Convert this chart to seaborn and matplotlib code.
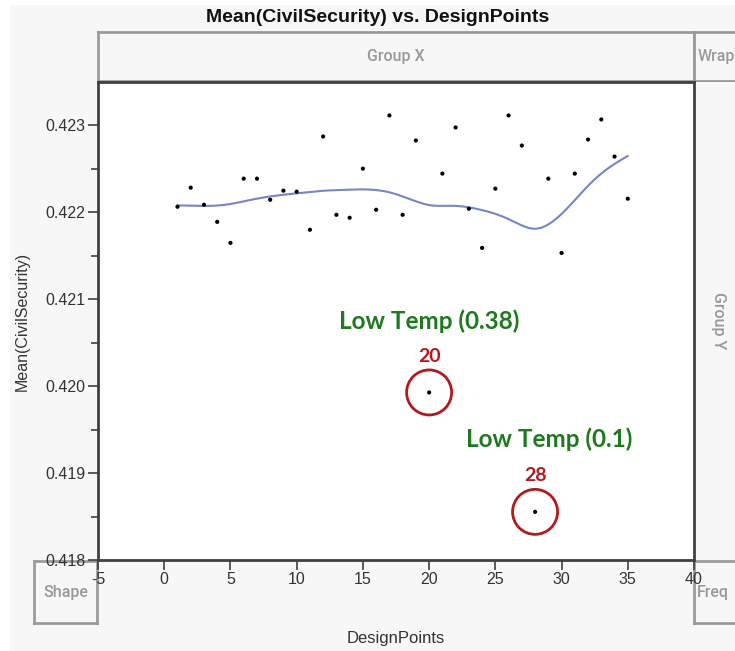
"""
Mean(CivilSecurity) vs. DesignPoints - JMP style graph builder view
with smoother and two flagged low-temperature design points.
"""

import numpy as np
import pandas as pd
import matplotlib
matplotlib.use("Agg")
import matplotlib.pyplot as plt
from matplotlib.patches import Rectangle
import seaborn as sns

# ─────────────────────────────────────────────
# Data
# ─────────────────────────────────────────────
design_points = list(range(1, 36))
civil_security = [
    0.422065, 0.422284, 0.422088, 0.421891, 0.421649, 0.422388, 0.422388,
    0.422145, 0.422250, 0.422238, 0.421800, 0.422873, 0.421972, 0.421938,
    0.422503, 0.422030, 0.423115, 0.421972, 0.422827, 0.419928, 0.422446,
    0.422977, 0.422042, 0.421591, 0.422273, 0.423115, 0.422769, 0.418554,
    0.422388, 0.421533, 0.422446, 0.422838, 0.423069, 0.422642, 0.422157,
]
flagged_points = [20, 28]
flag_labels = ["Low Temp (0.38)", "Low Temp (0.1)"]
x_ticks = [-5, 0, 5, 10, 15, 20, 25, 30, 35, 40]
y_ticks = [0.418, 0.419, 0.420, 0.421, 0.422, 0.423]
y_minor = [0.4185, 0.4195, 0.4205, 0.4215, 0.4225]

SMOOTH_LAMBDA = 26.0

BG = "#f7f7f7"
ZONE = "#999999"
GREEN = "#1f7a1f"
RED = "#b5191c"
CURVE = "#7585cc"


def spline_smoother(x, y, lam, n_eval=400):
    """Natural cubic smoothing spline (Reinsch algorithm)."""
    x = np.asarray(x, float)
    y = np.asarray(y, float)
    n = len(x)
    h = np.diff(x)
    Q = np.zeros((n, n - 2))
    R = np.zeros((n - 2, n - 2))
    for k in range(n - 2):
        Q[k, k] = 1 / h[k]
        Q[k + 1, k] = -1 / h[k] - 1 / h[k + 1]
        Q[k + 2, k] = 1 / h[k + 1]
        R[k, k] = (h[k] + h[k + 1]) / 3
        if k < n - 3:
            R[k, k + 1] = R[k + 1, k] = h[k + 1] / 6
    gamma = np.linalg.solve(R + lam * Q.T @ Q, Q.T @ y)
    g = y - lam * Q @ gamma
    gam = np.concatenate([[0.0], gamma, [0.0]])

    grid = np.linspace(x[0], x[-1], n_eval)
    i = np.clip(np.searchsorted(x, grid) - 1, 0, n - 2)
    a = grid - x[i]
    b = x[i + 1] - grid
    hi = h[i]
    fit = (a * g[i + 1] + b * g[i]) / hi - a * b / 6 * (
        (1 + a / hi) * gam[i + 1] + (1 + b / hi) * gam[i])
    return grid, fit


df = pd.DataFrame({"DesignPoints": design_points, "CivilSecurity": civil_security})
grid, smooth = spline_smoother(df["DesignPoints"], df["CivilSecurity"], SMOOTH_LAMBDA)
curve_df = pd.DataFrame({"DesignPoints": grid, "CivilSecurity": smooth})
flag_df = df[df["DesignPoints"].isin(flagged_points)].reset_index(drop=True)

sns.set_theme(style="ticks")
plt.rcParams["font.family"] = ["Liberation Sans", "DejaVu Sans"]
plt.rcParams["axes.unicode_minus"] = False

W, H = 735, 651
fig = plt.figure(figsize=(W / 100, H / 100), dpi=100, facecolor="white")


def frac(x0, y0, x1, y1):
    return [x0 / W, 1 - y1 / H, (x1 - x0) / W, (y1 - y0) / H]


# grey JMP canvas
fig.patches.append(Rectangle((10 / W, 0), 1, 1 - 5 / H, transform=fig.transFigure,
                             facecolor=BG, edgecolor="none", zorder=-5))


def zone(rect, label, tx=0.5, ty=0.5, ha="center", rotation=0, edges=True):
    zax = fig.add_axes(frac(*rect))
    zax.set_facecolor(BG)
    zax.set_xticks([])
    zax.set_yticks([])
    for s in zax.spines.values():
        s.set_color("#9a9a9a")
        s.set_linewidth(2)
        s.set_visible(edges)
    zax.text(tx, ty, label, transform=zax.transAxes, ha=ha, va="center",
             rotation=rotation, color=ZONE, fontsize=11.5, fontweight="medium",
             family=["Roboto", "DejaVu Sans"])
    return zax


zone((98, 32, 694, 81), "Group X")
zone((694, 32, 760, 81), "Wrap", tx=0.05, ha="left")
zone((694, 82, 735, 560), "Group Y", tx=0.6, rotation=-90, edges=False)
zone((34, 561, 97, 623), "Shape")
zone((694, 561, 760, 623), "Freq", tx=0.05, ha="left")

# ─────────────────────────────────────────────
# Main plot
# ─────────────────────────────────────────────
ax = fig.add_axes(frac(98, 82, 694, 560))
ax.set_facecolor("white")

sns.lineplot(data=curve_df, x="DesignPoints", y="CivilSecurity", ax=ax,
             color=CURVE, linewidth=1.5, zorder=2)
sns.scatterplot(data=df, x="DesignPoints", y="CivilSecurity", ax=ax,
                color="black", s=9, edgecolor="none", zorder=3)
ax.scatter(flag_df["DesignPoints"], flag_df["CivilSecurity"], s=1050,
           facecolors="none", edgecolors=RED, linewidths=2, zorder=4)

label_offsets = [(0, 51), (10, 52)]
for (_, row), lab, off in zip(flag_df.iterrows(), flag_labels, label_offsets):
    ax.annotate(f"{int(row['DesignPoints'])}", (row["DesignPoints"], row["CivilSecurity"]),
                xytext=(0, 26), textcoords="offset points", ha="center", va="center",
                color=RED, fontsize=14, fontweight="bold", family=["Lato", "DejaVu Sans"])
    ax.annotate(lab, (row["DesignPoints"], row["CivilSecurity"]),
                xytext=off, textcoords="offset points", ha="center", va="center",
                color=GREEN, fontsize=17.5, fontweight="bold", family=["Lato", "DejaVu Sans"])

ax.set_xlim(-5, 40)
ax.set_ylim(0.418, 0.4235)
ax.set_xticks(x_ticks)
ax.set_xticklabels([str(t) for t in x_ticks])
ax.set_yticks(y_ticks)
ax.set_yticklabels([f"{t:.3f}" for t in y_ticks])
ax.set_yticks(y_minor, minor=True)
ax.tick_params(axis="both", which="major", length=7, width=1.2, color="#404040",
               labelsize=11.5, labelcolor="#333333", pad=2)
ax.tick_params(axis="y", which="minor", length=5, width=1.2, color="#404040")
for s in ax.spines.values():
    s.set_color("#404040")
    s.set_linewidth(2)
    s.set_visible(True)

ax.set_xlabel("DesignPoints", fontsize=12, color="#333333", labelpad=31)
ax.set_ylabel("Mean(CivilSecurity)", fontsize=11.5, color="#333333", labelpad=11)

fig.text(378 / W, 1 - 18 / H, "Mean(CivilSecurity) vs. DesignPoints", ha="center",
         va="center", fontsize=14, fontweight="bold", color="#111111")

fig.savefig("out.png", dpi=100, facecolor="white")
plt.close()
